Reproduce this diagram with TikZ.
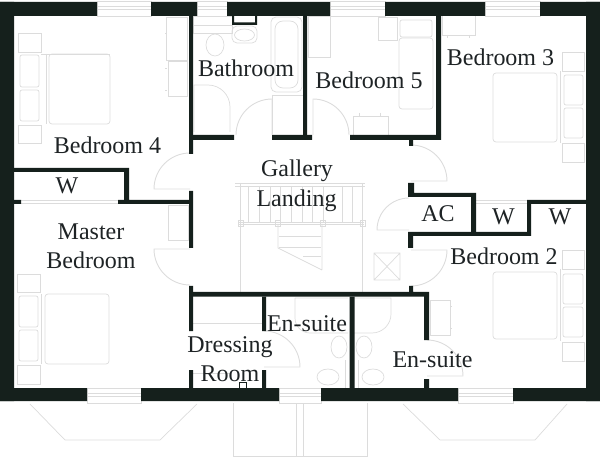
\documentclass[tikz,border=0pt]{standalone}
\usepackage{fontspec}
\setmainfont{Liberation Serif}
\definecolor{wallcol}{HTML}{15201C}
\definecolor{fixcol}{HTML}{DCDCDC}
\definecolor{labelcol}{HTML}{1E2325}
\newcommand{\doorswing}[4]{\draw[fixture,line width=0.9pt] (#1) -- ++(#2:#4) arc[start angle=#2,end angle=#3,radius=#4];}
\newcommand{\glazing}[4]{\draw[fixture] (#1,#3) rectangle (#2,#4) (#1,#3+5) -- (#2,#3+5) (#1,#3+8) -- (#2,#3+8);}

\begin{document}
\begin{tikzpicture}[x=1pt,y=-1pt,
  wall/.style={fill=wallcol,draw=none},
  fixture/.style={draw=fixcol,line width=0.7pt},
  roomlabel/.style={text=labelcol,font=\fontsize{24}{24}\selectfont,anchor=base,inner sep=0pt}]
\useasboundingbox (0,0) rectangle (600,457);

\glazing{97}{151}{1}{16}
\glazing{197}{227}{1}{16}
\glazing{330}{385}{1}{16}
\glazing{485}{540}{1}{16}
\glazing{87}{141}{388}{403}
\glazing{279}{321}{388}{403}
\glazing{458}{513}{388}{403}

\draw[fixture] (30,404) -- (65,440) -- (160,440) -- (197,404);
\draw[fixture] (403,404) -- (440,440) -- (535,440) -- (567,404);
\draw[fixture] (233,403) -- (233,456) -- (367,456) -- (367,403);
\draw[fixture] (296,403) -- (296,456) (303,403) -- (303,456);

\draw[fixture,rounded corners=3pt] (49,54) rectangle (110,124);
\draw[fixture] (46,54) -- (46,124) (41,54) -- (110,54);
\draw[fixture,rounded corners=2pt] (20,55) rectangle (39,87) (20,90) rectangle (39,121);
\draw[fixture] (18,33) rectangle (41,52) (18,125) rectangle (41,143);
\draw[fixture] (166,17) rectangle (187,60) (168,61) rectangle (187,96);
\draw[fixture] (165,33) -- (167,33) (165,68) -- (167,68) (165,90) -- (167,90);

\draw[fixture,rounded corners=3pt] (45,294) rectangle (109,364);
\draw[fixture] (41,294) -- (41,364);
\draw[fixture,rounded corners=2pt] (19,296) rectangle (38,327) (19,330) rectangle (38,361);
\draw[fixture] (17,274) rectangle (40,292) (17,365) rectangle (40,384);
\draw[fixture] (168,205) rectangle (188,240);

\draw[fixture] (193,16) rectangle (232,33) (193,25) -- (232,25);
\draw[fixture,rounded corners=5pt] (232,26) rectangle (257,43);
\draw[fixture] (244.5,35) ellipse [x radius=10,y radius=6];
\draw[fixture] (215,45) ellipse [x radius=9,y radius=11];
\draw[fixture] (194,132) -- (194,85) -- (208,85) arc[start angle=270,end angle=360,radius=22] -- (230,132);
\draw[fixture,rounded corners=5pt] (271,17) rectangle (302,92);
\draw[fixture,rounded corners=8pt] (275,21) rectangle (298,88);
\draw[fixture] (272,95) -- (303,95) (272,95) -- (272,134);

\draw[fixture] (308,16) rectangle (330,57);
\draw[fixture] (378,17) rectangle (397,40);
\draw[fixture,rounded corners=2pt] (400,20) rectangle (432,37);
\draw[fixture,rounded corners=3pt] (399,38) rectangle (433,109);
\draw[fixture] (353,116) rectangle (388,135) (359,113) -- (359,116) (380,113) -- (380,116);

\draw[fixture] (442,16) -- (442,35) -- (475,35) -- (475,16);
\draw[fixture] (447,35) -- (447,38) (469,35) -- (469,38);
\draw[fixture,rounded corners=3pt] (493,73) rectangle (557,142);
\draw[fixture] (560,71) -- (560,143);
\draw[fixture,rounded corners=2pt] (564,75) rectangle (583,105) (564,108) rectangle (583,138);
\draw[fixture] (562,52) rectangle (584,71) (562,143) rectangle (584,162);

\draw[fixture,rounded corners=3pt] (493,272) rectangle (557,339);
\draw[fixture] (560,269) -- (560,341);
\draw[fixture,rounded corners=2pt] (563,274) rectangle (583,304) (563,307) rectangle (583,337);
\draw[fixture] (562,250) rectangle (584,269) (562,342) rectangle (584,361);
\draw[fixture] (430,300) rectangle (450,335) (450,306) -- (452,306) (450,328) -- (452,328);

\draw[fixture] (476,200) -- (527,200) (476,203) -- (527,203);
\draw[fixture] (21,200) -- (118,200) (21,203) -- (118,203);

\draw[fixture] (235,183) -- (365,183) (235,186) -- (365,186);
\draw[fixture] (238,222) -- (364,222) (238,224) -- (364,224);
\draw[fixture] (240,183) -- (240,292) (362,183) -- (362,292);
\draw[fixture] (248,186) -- (248,222) (259,186) -- (259,222) (270,186) -- (270,222) (280,186) -- (280,222) (291,186) -- (291,222) (302,186) -- (302,222) (312,186) -- (312,222) (323,186) -- (323,222) (342,186) -- (342,222) (352,186) -- (352,222);
\draw[fixture] (278,224) -- (278,248) -- (322,270) (322,224) -- (322,270);
\draw[fixture] (279,236) -- (321,236) (279,247) -- (321,247) (303,256) -- (321,256);
\draw[fixture] (238,220) rectangle (243,226) (275,220) rectangle (280,226) (320,220) rectangle (325,226) (360,220) rectangle (365,226);
\draw[fixture] (374,253) rectangle (400,280) (374,253) -- (400,280) (374,280) -- (400,253);

\draw[fixture] (193,323) -- (262,323) (193,373) -- (230,373);
\draw[fixture] (295,298) -- (295,318) arc[start angle=180,end angle=90,radius=15] -- (348,333) (295,298) -- (348,298);
\draw[fixture] (354,333) -- (372,333) arc[start angle=90,end angle=0,radius=19] -- (391,298) -- (354,298);
\draw[fixture] (339,347) ellipse [x radius=8,y radius=11] (328,377) ellipse [x radius=11,y radius=8];
\draw[fixture] (364,347) ellipse [x radius=8,y radius=11] (373,377) ellipse [x radius=11,y radius=8];
\draw[fixture] (345,360) -- (345,388) (358,360) -- (358,388);
\draw[draw=wallcol,line width=1pt] (239.5,388) -- (239.5,382) -- (246.5,382) -- (246.5,388);

\doorswing{190,189}{180}{270}{36}
\doorswing{190,249}{180}{90}{36}
\doorswing{272,135}{270}{180}{36}
\doorswing{313,135}{270}{360}{36}
\doorswing{411,181}{0}{-90}{36}
\doorswing{409,230}{180}{270}{32}
\doorswing{411,250}{0}{90}{36}
\doorswing{427,376}{0}{-90}{36}
\doorswing{264,367}{0}{-90}{36}

\fill[wall] (0,2) rectangle (97,16) (151,2) rectangle (197,16) (227,2) rectangle (330,16) (385,2) rectangle (485,16) (540,2) rectangle (600,16);
\fill[wall] (0,388) rectangle (87,401) (141,388) rectangle (279,401) (321,388) rectangle (458,401) (513,388) rectangle (600,401);
\fill[wall] (0,2) rectangle (14,401) (586,2) rectangle (600,401);
\fill[wall] (189,16) rectangle (193,154) (189,191) rectangle (193,248) (189,286) rectangle (193,331) (189,370) rectangle (193,388);
\fill[wall] (193,135) rectangle (234,140) (272,135) rectangle (312,140) (350,135) rectangle (441,140);
\fill[wall] (303,16) rectangle (307,135) (436,16) rectangle (441,135) (409,140) rectangle (413,146);
\fill[wall] (14,168) rectangle (129,172) (124,172) rectangle (129,204) (118,200) rectangle (189,204) (14,200) rectangle (21,204);
\fill[wall] (408,183) rectangle (414,197) (414,193) rectangle (476,197) (471,197) rectangle (476,232);
\fill[wall] (408,232) rectangle (531,236) (527,200) rectangle (586,204) (527,204) rectangle (531,232) (408,236) rectangle (413,248);
\fill[wall] (409,286) rectangle (413,292) (193,292) rectangle (429,296.5) (424,296.5) rectangle (429,340) (424,379) rectangle (429,388);
\fill[wall] (349.5,296.5) rectangle (354.5,388) (262,296.5) rectangle (266,331) (262,370) rectangle (266,388);
\fill[wall] (232,16) rectangle (234,25) (255,16) rectangle (257,25) (232,22.5) rectangle (257,25);

\node[roomlabel] (bedroomfour) at (107.5,154) {Bedroom 4};
\node[roomlabel] (bathroom) at (246,77) {Bathroom};
\node[roomlabel] (bedroomfive) at (369,89) {Bedroom 5};
\node[roomlabel] (bedroomthree) at (500.5,66) {Bedroom 3};
\node[roomlabel] (gallery) at (297,177) {Gallery};
\node[roomlabel] (landing) at (296.5,207) {Landing};
\node[roomlabel] (wleft) at (67,194) {W};
\node[roomlabel] (ac) at (438,222) {AC};
\node[roomlabel] (wmid) at (503.5,225) {W};
\node[roomlabel] (wright) at (560,225) {W};
\node[roomlabel] (master) at (91,240) {Master};
\node[roomlabel] (masterbed) at (91,269) {Bedroom};
\node[roomlabel] (bedroomtwo) at (504,265) {Bedroom 2};
\node[roomlabel] (dressing) at (230,352) {Dressing};
\node[roomlabel] (room) at (230,381) {Room};
\node[roomlabel] (ensuiteleft) at (307,331) {En-suite};
\node[roomlabel] (ensuiteright) at (432.5,367) {En-suite};
\end{tikzpicture}
\end{document}
